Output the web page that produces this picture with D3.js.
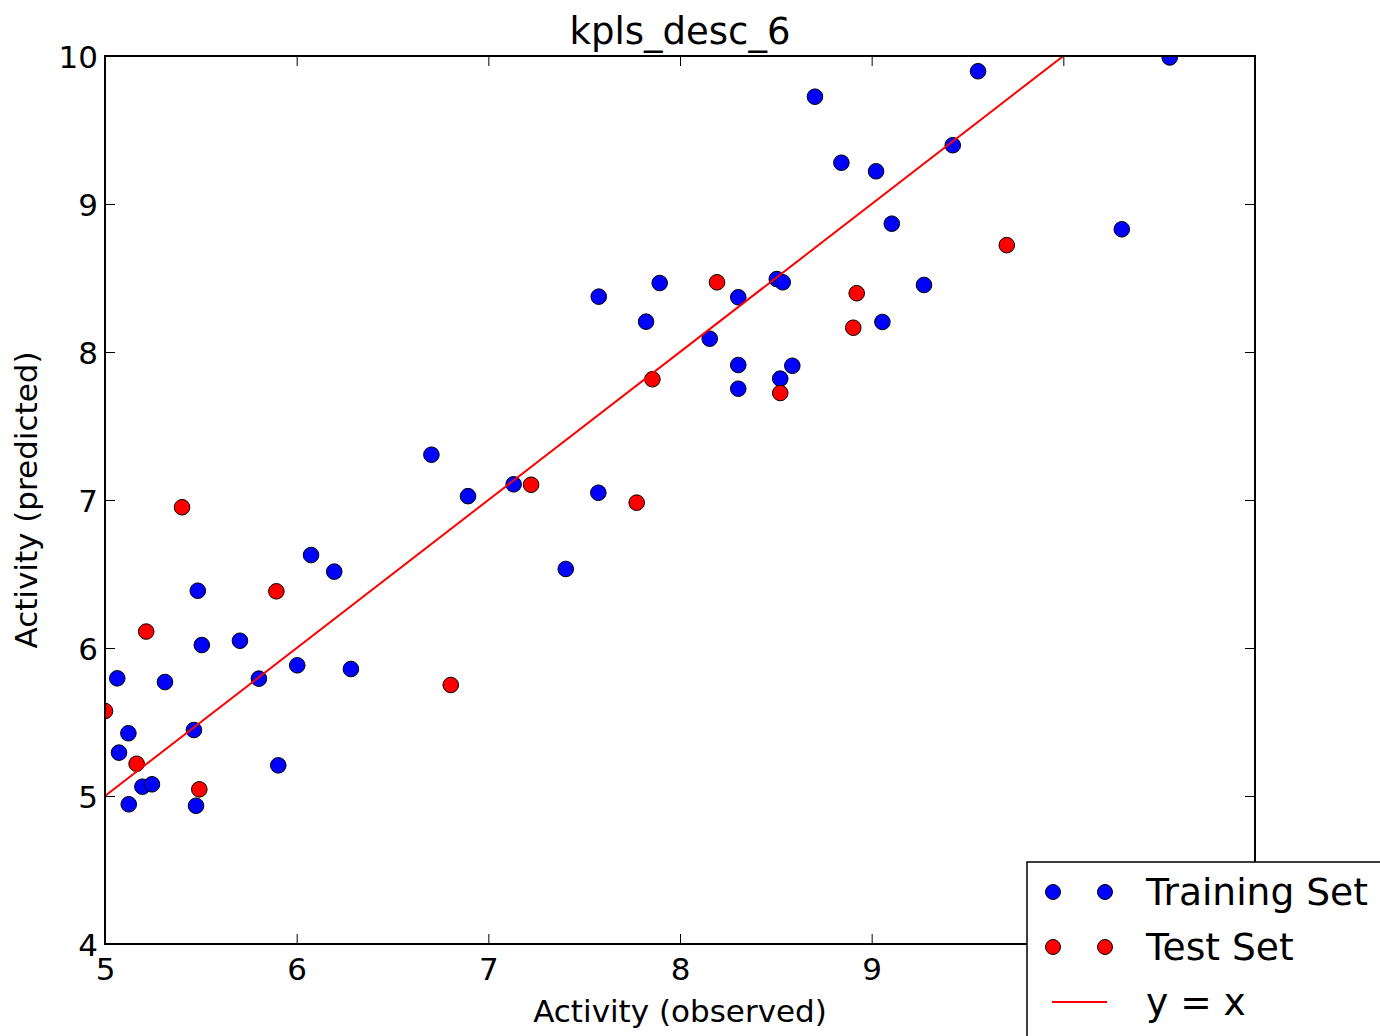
<!DOCTYPE html>
<html>
<head>
<meta charset="utf-8">
<script src="https://cdn.jsdelivr.net/npm/d3@7"></script>
<style>
  html, body { margin: 0; padding: 0; background: #ffffff; }
  svg { display: block; font-family: "DejaVu Sans", sans-serif; }
</style>
</head>
<body>
<svg id="chart" width="1380" height="1036"></svg>
<script>
// Observed vs. predicted activity for the kpls_desc_6 model
const trainObserved = [10.555, 9.555, 8.704, 8.842, 9.023, 9.423, 9.105, 10.305, 9.273, 9.056,
  7.894, 7.576, 7.823, 8.155, 8.304, 8.505, 8.536, 8.304, 8.586, 8.304, 8.523,
  6.703, 6.894, 7.132, 7.574, 7.404, 6.075, 6.196, 5.484, 5.505, 5.704,
  5.064, 5.313, 5.803, 6.003, 6.283, 5.122, 5.464, 5.073, 5.904, 5.195, 5.245, 5.124, 5.475];
const trainPredicted = [9.99, 9.897, 9.725, 9.279, 9.221, 9.397, 8.867, 8.829, 8.453, 8.203,
  8.466, 8.374, 8.205, 8.090, 8.370, 8.493, 8.471, 7.912, 7.907, 7.752, 7.820,
  7.306, 7.026, 7.106, 7.049, 6.534, 6.628, 6.516, 6.387, 6.020, 6.049,
  5.795, 5.770, 5.793, 5.883, 5.858, 5.424, 5.446, 5.293, 5.207, 5.063, 5.079, 4.944, 4.934];

const testObserved = [5.0, 5.215, 5.165, 5.492, 6.804, 5.402, 5.894, 7.223, 7.774, 7.856,
  8.193, 8.523, 8.904, 8.922, 9.705];
const testPredicted = [5.574, 6.111, 5.218, 5.045, 5.750, 6.951, 6.383, 7.103, 6.982, 7.816,
  8.471, 7.723, 8.164, 8.397, 8.722];

const xTicks = [5, 6, 7, 8, 9, 10, 11];
const yTicks = [4, 5, 6, 7, 8, 9, 10];
const legendLabels = ["Training Set", "Test Set", "y = x"];

const titleText = "kpls_desc_6";
const xLabel = "Activity (observed)";
const yLabel = "Activity (predicted)";

const plotLeft = 105, plotRight = 1255, plotTop = 56, plotBottom = 944;
const legendLeft = 1027, legendTop = 862;

const svg = d3.select("#chart");

const x = d3.scaleLinear().domain([5, 11]).range([plotLeft, plotRight]);
const y = d3.scaleLinear().domain([4, 10]).range([plotBottom, plotTop]);

svg.append("defs").append("clipPath").attr("id", "plotClip")
  .append("rect")
  .attr("x", plotLeft).attr("y", plotTop)
  .attr("width", plotRight - plotLeft).attr("height", plotBottom - plotTop);

const plot = svg.append("g").attr("clip-path", "url(#plotClip)");

function drawPoints(xs, ys, fill) {
  plot.append("g").selectAll("circle")
    .data(xs.map((v, i) => [v, ys[i]]))
    .join("circle")
    .attr("cx", d => x(d[0]))
    .attr("cy", d => y(d[1]))
    .attr("r", 7.8)
    .attr("fill", fill)
    .attr("stroke", "#000")
    .attr("stroke-width", 1);
}

drawPoints(trainObserved, trainPredicted, "#0000ff");
drawPoints(testObserved, testPredicted, "#ff0000");

// identity line y = x
const diag = x.domain().map(v => [v, v]);
plot.append("path")
  .datum(diag)
  .attr("fill", "none")
  .attr("stroke", "#ff0000")
  .attr("stroke-width", 2)
  .attr("d", d3.line().x(d => x(d[0])).y(d => y(d[1])));

// axes: inward ticks on all four sides, labels on bottom and left
const tickLen = 10;
const fontTick = 31;

function styleAxis(g) {
  g.select(".domain").remove();
  g.selectAll(".tick line").attr("stroke", "#000").attr("stroke-width", 1);
  g.selectAll("text").attr("fill", "#000").attr("font-size", fontTick)
    .attr("font-family", "DejaVu Sans");
}

// x tick labels that sit beneath the legend box are left blank
const xTickFormat = d => (x(d) < legendLeft - 10 ? d3.format("d")(d) : "");

const gBottom = svg.append("g").attr("transform", `translate(0,${plotBottom})`)
  .call(d3.axisBottom(x).tickValues(xTicks).tickFormat(xTickFormat)
    .tickSizeInner(-tickLen).tickSizeOuter(0).tickPadding(0));
styleAxis(gBottom);
gBottom.selectAll("text").attr("y", 36).attr("dy", null);

const gTop = svg.append("g").attr("transform", `translate(0,${plotTop})`)
  .call(d3.axisTop(x).tickValues(xTicks).tickFormat("").tickSizeInner(-tickLen).tickSizeOuter(0));
styleAxis(gTop);

const gLeft = svg.append("g").attr("transform", `translate(${plotLeft},0)`)
  .call(d3.axisLeft(y).tickValues(yTicks).tickFormat(d3.format("d"))
    .tickSizeInner(-tickLen).tickSizeOuter(0).tickPadding(0));
styleAxis(gLeft);
gLeft.selectAll("text").attr("x", -7).attr("dy", "0.36em");

const gRight = svg.append("g").attr("transform", `translate(${plotRight},0)`)
  .call(d3.axisRight(y).tickValues(yTicks).tickFormat("").tickSizeInner(-tickLen).tickSizeOuter(0));
styleAxis(gRight);

// frame
svg.append("rect")
  .attr("x", plotLeft).attr("y", plotTop)
  .attr("width", plotRight - plotLeft).attr("height", plotBottom - plotTop)
  .attr("fill", "none").attr("stroke", "#000").attr("stroke-width", 2);

// title and axis labels
svg.append("text")
  .attr("x", (plotLeft + plotRight) / 2).attr("y", 44)
  .attr("text-anchor", "middle").attr("font-size", 37).attr("fill", "#000")
  .text(titleText);

svg.append("text")
  .attr("x", (plotLeft + plotRight) / 2).attr("y", 1022)
  .attr("text-anchor", "middle").attr("font-size", 31).attr("fill", "#000")
  .text(xLabel);

svg.append("text")
  .attr("transform", `translate(37,${(plotTop + plotBottom) / 2}) rotate(-90)`)
  .attr("text-anchor", "middle").attr("font-size", 31).attr("fill", "#000")
  .text(yLabel);

// legend, placed outside the lower-right corner of the axes
const legend = svg.append("g");
legend.append("rect")
  .attr("x", legendLeft).attr("y", legendTop).attr("width", 420).attr("height", 260)
  .attr("fill", "#fff").attr("stroke", "#000").attr("stroke-width", 1.5);

const rowY = [892, 947, 1002];
const markerX = [1053, 1105];
const legendColors = ["#0000ff", "#ff0000"];

legendColors.forEach((c, i) => {
  legend.append("g").selectAll("circle")
    .data(markerX)
    .join("circle")
    .attr("cx", d => d).attr("cy", rowY[i]).attr("r", 7.5)
    .attr("fill", c).attr("stroke", "#000").attr("stroke-width", 1);
});

legend.append("line")
  .attr("x1", 1052).attr("x2", 1107)
  .attr("y1", rowY[2]).attr("y2", rowY[2])
  .attr("stroke", "#ff0000").attr("stroke-width", 2);

legend.selectAll("text.lbl")
  .data(legendLabels)
  .join("text")
  .attr("class", "lbl")
  .attr("x", 1146)
  .attr("y", (d, i) => rowY[i] + 13)
  .attr("font-size", 37.6).attr("fill", "#000")
  .text(d => d);
</script>
</body>
</html>
